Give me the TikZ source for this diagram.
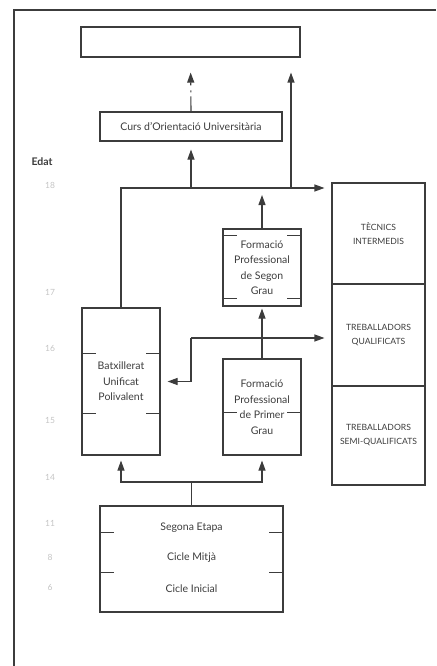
\documentclass[tikz,border=0pt]{standalone}
\usepackage{fontspec}
\setmainfont{Lato}
\usetikzlibrary{arrows.meta}
\definecolor{ink}{HTML}{3C3C3C}
\definecolor{agegray}{HTML}{C4C4C4}

\begin{document}
\begin{tikzpicture}[x=1pt,y=-1pt]
  \tikzstyle{Box}=[draw=ink,line width=1.1pt,text=ink,align=center,inner sep=0pt,
                   font=\fontsize{10.5}{15.5}\selectfont]
  \tikzstyle{Caps}=[Box,font=\fontsize{8.6}{14}\selectfont]
  \tikzstyle{Label}=[text=ink,font=\fontsize{10.5}{12}\selectfont]
  \tikzstyle{Age}=[text=agegray,font=\fontsize{8.5}{10}\selectfont]
  \tikzstyle{Line}=[draw=ink,line width=1.1pt]
  \tikzstyle{Flow}=[Line,-{Triangle[length=10pt,width=7pt]},shorten >=7pt]
  \tikzstyle{Tick}=[draw=ink,line width=0.8pt]
  \useasboundingbox (0,0) rectangle (436,666);
  % frame, cut at right and bottom
  \draw[Line] (436,10) -- (14,10) -- (14,666);
  % boxes
  \node[Box,minimum width=219,minimum height=30] (uni) at (190.5,42) {};
  \node[Box,minimum width=182,minimum height=29] (curs) at (191,126.5)
    {Curs d'Orientació Universitària};
  \node[Box,minimum width=78,minimum height=147] (batx) at (121,381.5)
    {Batxillerat\\Unificat\\Polivalent};
  \node[Box,minimum width=78,minimum height=77] (fps) at (262,267.5)
    {Formació\\Professional\\de Segon\\Grau};
  \node[Box,minimum width=78,minimum height=96] (fpp) at (262,407)
    {Formació\\Professional\\de Primer\\Grau};
  \node[Caps,minimum width=93,minimum height=101] (tec) at (378.5,233.5)
    {TÈCNICS\\INTERMEDIS};
  \node[Caps,minimum width=93,minimum height=102] (qual) at (378.5,335)
    {TREBALLADORS\\QUALIFICATS};
  \node[Caps,minimum width=93,minimum height=99] (semi) at (378.5,435.5)
    {TREBALLADORS\\SEMI-QUALIFICATS};
  \node[Box,minimum width=183,minimum height=106] (egb) at (191.5,559) {};
  \node[Label] (seg) at (191.5,528) {Segona Etapa};
  \node[Label] (mit) at (191.5,558) {Cicle Mitjà};
  \node[Label] (ini) at (191.5,589) {Cicle Inicial};
  \foreach \n/\y in {batx/353,batx/413,fps/235,fps/298,fpp/412,egb/532,egb/572}{
    \draw[Tick] (\n.west |- 0,\y) -- ++(15,0);
    \draw[Tick] (\n.east |- 0,\y) -- ++(-15,0);
  }
  % ages
  \node[text=ink,font=\fontsize{10.5}{12}\selectfont\bfseries] (edat) at (42,162) {Edat};
  \foreach \a/\y in {18/185,17/292,16/348,15/420,14/477,11/523,8/557,6/587}
    \node[Age] (age\a) at (50,\y) {\a};
  % connectors
  \coordinate (top) at (121,188);
  \coordinate (up) at (291,188);
  \coordinate (split) at (191,338);
  \coordinate (fork) at (191.5,482);
  \draw[Flow] (batx.north) |- (tec.west |- top);
  \draw[Flow,shorten >=8pt] (curs.south |- top) -- (curs.south);
  \draw[Flow,shorten >=15pt] (up) -- (up |- uni.south);
  \draw[Flow,shorten >=15pt,dash pattern=on 15pt off 4pt on 2pt off 5pt on 30pt]
    (curs.north) -- (uni.south);
  \draw[Flow] (fps.north) -- (fps.north |- top);
  \draw[Flow,shorten >=2pt] (fpp.north) -- (fps.south);
  \draw[Flow] (split) -- (split -| qual.west);
  \draw[Flow] (split) |- (batx.east);
  \draw[Line] (egb.north) -- (fork);
  \draw[Flow,shorten >=5pt] (fork) -| (batx.south);
  \draw[Flow,shorten >=5pt] (fork) -| (fpp.south);
\end{tikzpicture}
\end{document}
